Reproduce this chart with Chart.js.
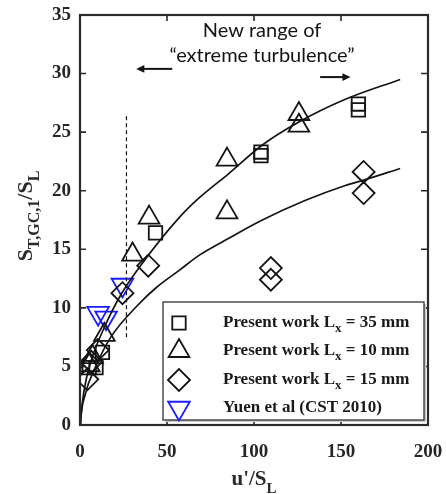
<!DOCTYPE html>
<html>
<head>
<meta charset="utf-8">
<title>Turbulent flame speed</title>
<script src="https://cdn.jsdelivr.net/npm/chart.js@4.4.1/dist/chart.umd.min.js"></script>
<style>
  html, body { margin: 0; padding: 0; background: #fff; }
  #wrap { width: 446px; height: 494px; }
</style>
</head>
<body>
<div id="wrap"><canvas id="chart" width="446" height="494"></canvas></div>
<script>
// Values (u'/SL, ST,GC,1/SL)
const squareX   = [5.3, 9.2, 12.9, 43.4, 104, 104, 160, 160];
const squareY   = [4.9, 4.9, 6.2, 16.4, 23.0, 23.3, 26.9, 27.4];
const triangleX = [5.3, 7.2, 14, 30.2, 39.7, 84.5, 84.5, 125.8, 125.8];
const triangleY = [5.1, 5.8, 7.7, 14.55, 17.7, 18.15, 22.65, 25.55, 26.55];
const diamondX  = [4.2, 6.5, 10.2, 24.4, 39.2, 109.7, 109.7, 163, 163];
const diamondY  = [3.9, 5.4, 6.4, 11.25, 13.6, 12.4, 13.4, 19.8, 21.6];
const yuenX     = [10.4, 15.0, 24.4];
const yuenY     = [9.55, 9.15, 11.95];

// fitted curves
const upperCurveX = [0.3, 0.5, 2.4, 6.2, 13.9, 23.4, 36.8, 57, 68.6, 85, 104.8, 125, 152.5, 184];
const upperCurveY = [0, 0.6, 3.0, 5.4, 8.3, 11.1, 14.0, 17.7, 19.4, 21.4, 23.9, 25.8, 27.8, 29.5];
const lowerCurveX = [0.3, 0.5, 2.4, 10, 17.7, 33, 44.4, 57, 68.6, 85, 104.8, 130, 152.5, 163, 184];
const lowerCurveY = [0, 0.6, 2.3, 5.3, 7.5, 10.2, 11.8, 13.2, 14.5, 15.9, 17.5, 19.2, 20.45, 20.9, 21.9];

// dashed marker line and annotation arrows (data units)
const dashedX = [26.7, 26.7];
const dashedY = [7.5, 26.4];
const leftArrow  = [[53, 30.4], [32.3, 30.4]];
const rightArrow = [[138, 29.7], [155.5, 29.7]];
const noteLines = ['New range of', '\u201cextreme turbulence\u201d'];
const noteAt = [[104.6, 33.7], [104.6, 31.55]];

// axes
const xTicks = [0, 50, 100, 150, 200];
const yTicks = [0, 5, 10, 15, 20, 25, 30, 35];

const legendLabels = [
    ['Present work L', 'x', ' = 35 mm'],
    ['Present work L', 'x', ' = 10 mm'],
    ['Present work L', 'x', ' = 15 mm'],
    ['Yuen et al (CST 2010)', '', '']
];

const toPoints = (xs, ys) => xs.map((v, i) => ({ x: v, y: ys[i] }));

const INK = '#141414';
const BLUE = '#1c1cff';

const markerSets = [
    { data: toPoints(squareX, squareY), pointStyle: 'rect', pointRadius: 9.5, pointRotation: 0, color: INK },
    { data: toPoints(triangleX, triangleY), pointStyle: 'triangle', pointRadius: 12, pointRotation: 0, color: INK },
    { data: toPoints(diamondX, diamondY), pointStyle: 'rectRot', pointRadius: 11, pointRotation: 0, color: INK },
    { data: toPoints(yuenX, yuenY), pointStyle: 'triangle', pointRadius: 12.5, pointRotation: 180, color: BLUE }
];

// draw text with one subscript part
function drawSubText(ctx, parts, x, y, mainFont, subFont, subDrop) {
    ctx.font = mainFont;
    let x0 = x;
    const w0 = ctx.measureText(parts[0]).width;
    ctx.fillText(parts[0], x0, y);
    x0 += w0;
    if (parts[1]) {
        ctx.font = subFont;
        ctx.fillText(parts[1], x0, y + subDrop);
        x0 += ctx.measureText(parts[1]).width;
    }
    if (parts[2]) {
        ctx.font = mainFont;
        ctx.fillText(parts[2], x0, y);
        x0 += ctx.measureText(parts[2]).width;
    }
    return x0;
}

function arrow(ctx, x1, y1, x2, y2) {
    const ang = Math.atan2(y2 - y1, x2 - x1);
    const head = 9;
    ctx.beginPath();
    ctx.moveTo(x1, y1);
    ctx.lineTo(x2 - Math.cos(ang) * head * 0.6, y2 - Math.sin(ang) * head * 0.6);
    ctx.stroke();
    ctx.beginPath();
    ctx.moveTo(x2, y2);
    ctx.lineTo(x2 - head * Math.cos(ang - 0.45), y2 - head * Math.sin(ang - 0.45));
    ctx.lineTo(x2 - head * Math.cos(ang + 0.45), y2 - head * Math.sin(ang + 0.45));
    ctx.closePath();
    ctx.fill();
}

const overlay = {
    id: 'overlay',
    afterDraw(chart) {
        const { ctx, chartArea: a, scales: { x, y } } = chart;
        ctx.save();

        // inward ticks on all four sides
        ctx.strokeStyle = '#2a2a2a';
        ctx.lineWidth = 1.6;
        ctx.beginPath();
        xTicks.forEach(v => {
            const px = x.getPixelForValue(v);
            ctx.moveTo(px, a.bottom); ctx.lineTo(px, a.bottom - 6);
            ctx.moveTo(px, a.top); ctx.lineTo(px, a.top + 6);
        });
        yTicks.forEach(v => {
            const py = y.getPixelForValue(v);
            ctx.moveTo(a.left, py); ctx.lineTo(a.left + 6, py);
            ctx.moveTo(a.right, py); ctx.lineTo(a.right - 7, py);
        });
        ctx.stroke();

        // frame
        ctx.lineWidth = 2.2;
        ctx.strokeRect(a.left, a.top, a.right - a.left, a.bottom - a.top);

        // annotation arrows and text
        ctx.strokeStyle = INK;
        ctx.fillStyle = INK;
        ctx.lineWidth = 2;
        [leftArrow, rightArrow].forEach(ar => {
            arrow(ctx, x.getPixelForValue(ar[0][0]), y.getPixelForValue(ar[0][1]),
                x.getPixelForValue(ar[1][0]), y.getPixelForValue(ar[1][1]));
        });
        ctx.font = '20px Lato';
        ctx.textAlign = 'center';
        ctx.textBaseline = 'middle';
        noteLines.forEach((t, i) => {
            ctx.fillText(t, x.getPixelForValue(noteAt[i][0]), y.getPixelForValue(noteAt[i][1]));
        });

        // legend box
        const bw = 261, bh = 118;
        const bx = a.right - 4 - bw, by = a.bottom - 5 - bh;
        ctx.fillStyle = '#c8c8c8';
        ctx.fillRect(bx + 2, by + 2, bw, bh);
        ctx.fillStyle = '#fff';
        ctx.fillRect(bx, by, bw, bh);
        ctx.strokeStyle = '#222';
        ctx.lineWidth = 1.2;
        ctx.strokeRect(bx, by, bw, bh);

        const rows = [21, 49, 78, 106];
        const helpers = Chart.helpers;
        markerSets.forEach((m, i) => {
            const cy = by + rows[i];
            ctx.fillStyle = 'rgba(0,0,0,0)';
            ctx.strokeStyle = m.color;
            ctx.lineWidth = 1.8;
            helpers.drawPoint(ctx, {
                pointStyle: m.pointStyle,
                radius: m.pointRadius,
                rotation: m.pointRotation,
                borderWidth: 1.8
            }, bx + 16, cy);
            ctx.fillStyle = '#1a1a1a';
            ctx.textAlign = 'left';
            ctx.textBaseline = 'middle';
            drawSubText(ctx, legendLabels[i], bx + 60, cy,
                'bold 17px "Liberation Serif"', 'bold 13px "Liberation Serif"', 6);
        });

        // axis titles
        ctx.fillStyle = '#2a2a2a';
        ctx.textBaseline = 'alphabetic';
        ctx.textAlign = 'left';
        const mainF = 'bold 21px "Liberation Serif"';
        const subF = 'bold 15px "Liberation Serif"';
        ctx.font = mainF;
        let w = ctx.measureText("u'/S").width;
        ctx.font = subF;
        w += ctx.measureText('L').width;
        drawSubText(ctx, ["u'/S", 'L', ''], (a.left + a.right) / 2 - w / 2, 485, mainF, subF, 8);

        // rotated y title
        const yMain = 'bold 22px "Liberation Serif"';
        const ySub = 'bold 16px "Liberation Serif"';
        const yParts = [['S', 'T,GC,1', ''], ['/S', 'L', '']];
        ctx.font = yMain;
        let yw = ctx.measureText('S').width + ctx.measureText('/S').width;
        ctx.font = ySub;
        yw += ctx.measureText('T,GC,1').width + ctx.measureText('L').width;
        ctx.translate(32, 216);
        ctx.rotate(-Math.PI / 2);
        let cx = -yw / 2;
        yParts.forEach(p => {
            cx = drawSubText(ctx, p, cx, 0, yMain, ySub, 7);
        });

        ctx.restore();
    }
};

const curveStyle = {
    showLine: true,
    pointRadius: 0,
    borderColor: INK,
    borderWidth: 1.7,
    cubicInterpolationMode: 'monotone',
    fill: false
};

const datasets = [
    Object.assign({ label: 'fit 1', data: toPoints(upperCurveX, upperCurveY) }, curveStyle),
    Object.assign({ label: 'fit 2', data: toPoints(lowerCurveX, lowerCurveY) }, curveStyle),
    {
        label: 'limit',
        data: toPoints(dashedX, dashedY),
        showLine: true,
        pointRadius: 0,
        borderColor: INK,
        borderWidth: 1.2,
        borderDash: [4, 3]
    }
];

markerSets.forEach((m, i) => {
    datasets.push({
        label: legendLabels[i].join(''),
        data: m.data,
        showLine: false,
        pointStyle: m.pointStyle,
        pointRadius: m.pointRadius,
        pointHoverRadius: m.pointRadius,
        rotation: m.pointRotation,
        pointBorderWidth: 1.8,
        borderColor: m.color,
        backgroundColor: 'rgba(0,0,0,0)'
    });
});

const tickFont = { family: 'Liberation Serif', weight: 'bold', size: 19 };

new Chart(document.getElementById('chart'), {
    type: 'scatter',
    data: { datasets },
    options: {
        responsive: false,
        animation: false,
        layout: { padding: { top: 15, right: 18, left: 0, bottom: 0 } },
        plugins: {
            legend: { display: false },
            tooltip: { enabled: false }
        },
        scales: {
            x: {
                type: 'linear',
                min: 0, max: 200,
                afterFit: s => { s.height = 69; s.paddingLeft = 0; s.paddingRight = 0; },
                grid: { display: false, drawTicks: false },
                border: { display: false },
                ticks: { stepSize: 50, padding: 16, color: '#262626', font: tickFont, maxRotation: 0 }
            },
            y: {
                type: 'linear',
                min: 0, max: 35,
                afterFit: s => { s.width = 80; s.paddingTop = 0; s.paddingBottom = 0; },
                grid: { display: false, drawTicks: false },
                border: { display: false },
                ticks: { stepSize: 5, padding: 9, color: '#262626', font: tickFont }
            }
        }
    },
    plugins: [overlay]
});
</script>
</body>
</html>
